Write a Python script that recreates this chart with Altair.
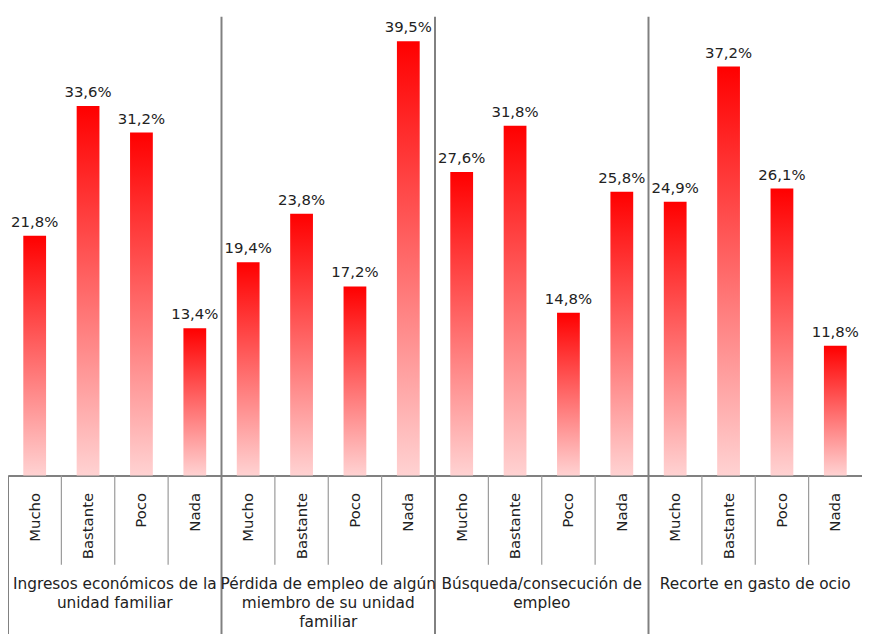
import altair as alt
import pandas as pd

groups = [
    "Ingresos económicos de la\nunidad familiar",
    "Pérdida de empleo de algún\nmiembro de su unidad\nfamiliar",
    "Búsqueda/consecución de\nempleo",
    "Recorte en gasto de ocio",
]
categories = ["Mucho", "Bastante", "Poco", "Nada"]
values_ingresos = [21.8, 33.6, 31.2, 13.4]
values_perdida = [19.4, 23.8, 17.2, 39.5]
values_busqueda = [27.6, 31.8, 14.8, 25.8]
values_recorte = [24.9, 37.2, 26.1, 11.8]
series = [values_ingresos, values_perdida, values_busqueda, values_recorte]

rows = []
for gi, (g, vals) in enumerate(zip(groups, series)):
    for c, v in zip(categories, vals):
        rows.append({"key": f"{gi}|{c}", "group": g, "cat": c, "value": v, "gi": gi})
df = pd.DataFrame(rows)
keys = list(df["key"])

W, H = 862, 469
FONT = "DejaVu Sans"
xscale = alt.Scale(domain=keys, paddingInner=0, paddingOuter=0)
yscale = alt.Scale(domain=[0, 42.25], nice=False, zero=True)

xaxis = alt.Axis(labelAngle=-90, labelPadding=17, ticks=False,
                 domainColor="#808080", domainWidth=2,
                 labelFont=FONT, labelFontSize=15, labelColor="#222",
                 labelExpr="split(datum.value,'|')[1]",
                 labelOverlap=False, labelBound=False, title=None)

gradient = alt.Gradient(
    gradient="linear",
    stops=[alt.GradientStop(color="#ff0000", offset=0),
           alt.GradientStop(color="#ffd2d2", offset=1)],
    x1=0, x2=0, y1=0, y2=1,
)

def X(**kw):
    return alt.X("key:N", scale=xscale, sort=keys, axis=xaxis, **kw)

base = alt.Chart(df)

bars = base.mark_bar(size=23, color=gradient).encode(
    x=X(),
    y=alt.Y("value:Q", scale=yscale, axis=None),
)

labels = base.transform_calculate(
    lbl="replace(format(datum.value,'.1f'),'.',',')+'%'"
).mark_text(dy=-9, baseline="alphabetic", fontSize=15, font=FONT, color="#222").encode(
    x=X(),
    y=alt.Y("value:Q", scale=yscale, axis=None),
    text="lbl:N",
)

ticks = base.transform_filter("datum.cat != 'Mucho'").mark_rule(color="#9a9a9a", strokeWidth=1.2).encode(
    x=X(bandPosition=0),
    y=alt.value(H),
    y2=alt.value(H + 90),
)

seps = base.transform_filter("datum.cat == 'Mucho' && datum.gi > 0").mark_rule(color="#808080", strokeWidth=2).encode(
    x=X(bandPosition=0),
    y=alt.value(6),
    y2=alt.value(H + 200),
)

sep0 = base.transform_filter("datum.cat == 'Mucho' && datum.gi == 0").mark_rule(color="#808080", strokeWidth=2).encode(
    x=X(bandPosition=0),
    y=alt.value(H),
    y2=alt.value(H + 200),
)

glabels = base.transform_filter("datum.cat == 'Poco'").mark_text(
    baseline="alphabetic", align="center", fontSize=15.5, font=FONT, color="#222",
    lineBreak="\n", lineHeight=19,
).encode(
    x=X(bandPosition=0),
    y=alt.value(H + 115),
    text="group:N",
)

chart = alt.layer(bars, labels, ticks, seps, sep0, glabels).properties(
    width=W, height=H,
    autosize=alt.AutoSizeParams(type="none"),
    padding={"left": 0, "top": 0, "right": 0, "bottom": 157},
).configure_view(stroke=None)

chart.save("out.html", embed_options={"renderer": "svg", "actions": False})
